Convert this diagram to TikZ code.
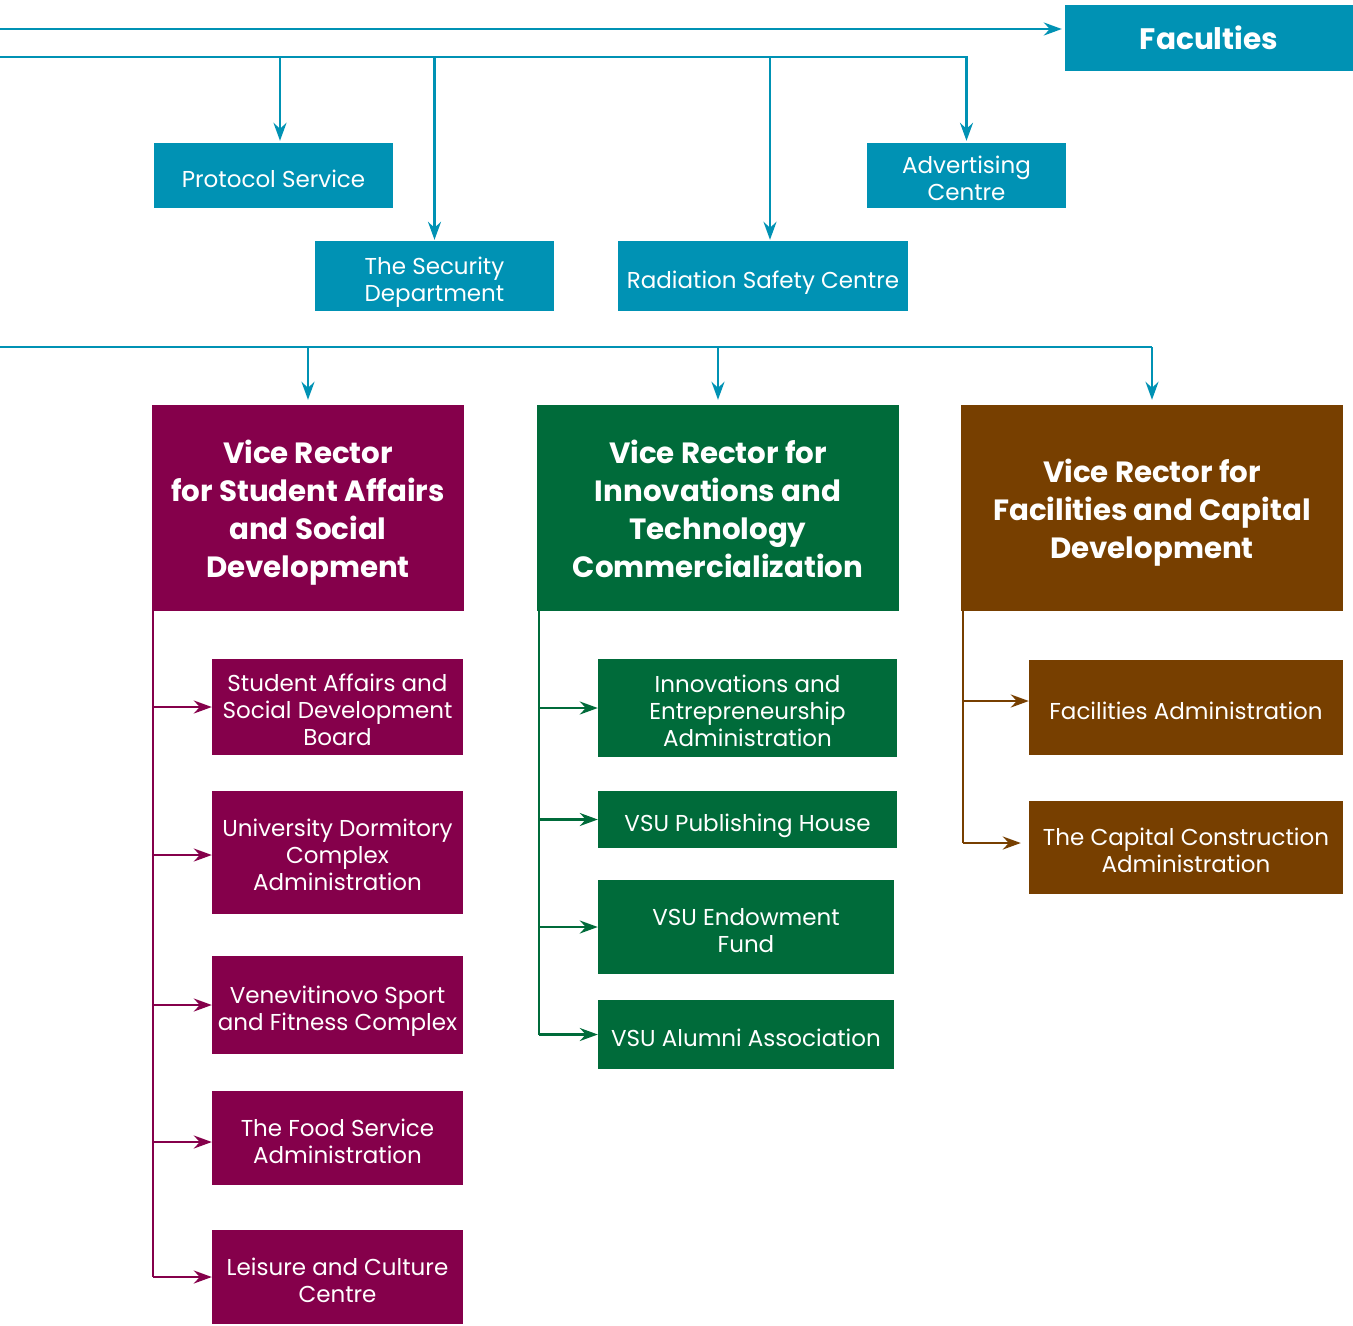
\documentclass[tikz,border=0pt]{standalone}
\usepackage{fontspec}
\setmainfont{Poppins}
\usetikzlibrary{arrows.meta}
\definecolor{cblue}{RGB}{0,146,180}
\definecolor{cmag}{RGB}{133,0,75}
\definecolor{cgreen}{RGB}{0,107,58}
\definecolor{cbrown}{RGB}{119,63,0}
\newcommand\mlstrut{\rule{0pt}{25pt}}
\newcommand\tlstrut{\rule{0pt}{27pt}}
\tikzset{
  box/.style={fill=#1, text=white, inner sep=0pt, align=center,
    font=\fontsize{23}{27}\selectfont,
    execute at begin node={\rule{0pt}{26pt}}, text depth=2pt},
  title/.style={fill=#1, text=white, inner sep=0pt, align=center,
    font=\fontsize{29.3}{38}\selectfont\bfseries, text depth=2pt},
  head/.style={fill=#1, text=white, inner sep=0pt, align=center,
    font=\fontsize{29.6}{38}\selectfont\bfseries},
  conn/.style={draw=#1, line width=2.6pt, -{Stealth[length=18pt,width=13pt,inset=6pt]}},
  plain/.style={draw=#1, line width=2.6pt},
}
\begin{document}
\begin{tikzpicture}[x=1pt,y=-1pt]
\useasboundingbox (0,0) rectangle (1353,1326);
% top row
\node[head=cblue, minimum width=288pt, minimum height=66pt] (fac) at (1209,38) {Faculties};
\node[box=cblue, minimum width=239pt, minimum height=65pt] (prot) at (273.5,175.5) {Protocol Service};
\node[box=cblue, minimum width=239pt, minimum height=70pt] (sec) at (434.5,276) {\mlstrut The Security\\Department};
\node[box=cblue, minimum width=290pt, minimum height=70pt] (rad) at (763,276) {Radiation Safety Centre};
\node[box=cblue, minimum width=199pt, minimum height=65pt] (adv) at (966.5,175.5) {\mlstrut Advertising\\Centre};
% vice rectors
\node[title=cmag, minimum width=312pt, minimum height=206pt] (vr1) at (308,508) {\tlstrut Vice Rector\\for Student Affairs\\and Social\\Development};
\node[title=cgreen, minimum width=362pt, minimum height=206pt] (vr2) at (718,508) {\tlstrut Vice Rector for\\Innovations and\\Technology\\Commercialization};
\node[title=cbrown, minimum width=382pt, minimum height=206pt] (vr3) at (1152,508) {\tlstrut Vice Rector for\\Facilities and Capital\\Development};
% magenta children
\node[box=cmag, minimum width=251pt, minimum height=96pt] (m1) at (337.5,707) {\mlstrut Student Affairs and\\Social Development\\Board};
\node[box=cmag, minimum width=251pt, minimum height=123pt] (m2) at (337.5,852) {\mlstrut University Dormitory\\Complex\\Administration};
\node[box=cmag, minimum width=251pt, minimum height=98pt] (m3) at (337.5,1005) {\mlstrut Venevitinovo Sport\\and Fitness Complex};
\node[box=cmag, minimum width=251pt, minimum height=94pt] (m4) at (337.5,1138) {\mlstrut The Food Service\\Administration};
\node[box=cmag, minimum width=251pt, minimum height=94pt] (m5) at (337.5,1277) {\mlstrut Leisure and Culture\\Centre};
% green children
\node[box=cgreen, minimum width=299pt, minimum height=98pt] (g1) at (747.5,708) {\mlstrut Innovations and\\Entrepreneurship\\Administration};
\node[box=cgreen, minimum width=299pt, minimum height=57pt] (g2) at (747.5,819.5) {VSU Publishing House};
\node[box=cgreen, minimum width=296pt, minimum height=94pt] (g3) at (746,927) {\mlstrut VSU Endowment\\Fund};
\node[box=cgreen, minimum width=296pt, minimum height=69pt] (g4) at (746,1034.5) {VSU Alumni Association};
% brown children
\node[box=cbrown, minimum width=314pt, minimum height=95pt] (b1) at (1186,707.5) {Facilities Administration};
\node[box=cbrown, minimum width=314pt, minimum height=93pt] (b2) at (1186,847.5) {\mlstrut The Capital Construction\\Administration};
% connector coordinates
\coordinate (L1) at (0,29);
\coordinate (L2) at (0,57);
\coordinate (L3) at (0,347);
\coordinate (pb) at (280,57);
\coordinate (rb) at (770,57);
\coordinate (s1) at (153,600);
\coordinate (s2) at (539,600);
\coordinate (s3) at (963,600);
% top connectors
\draw[conn=cblue, shorten >=3pt] (L1) -- (fac.west |- L1);
\draw[conn=cblue, shorten >=2pt] (L2) -- (adv.north |- L2) -- (adv.north);
\draw[conn=cblue, shorten >=2pt] (pb) -- (pb |- prot.north);
\draw[conn=cblue, shorten >=1pt] (sec.north |- L2) -- (sec.north);
\draw[conn=cblue, shorten >=1pt] (rb) -- (rb |- rad.north);
\draw[plain=cblue] (L3) -- (vr3.north |- L3);
\draw[conn=cblue, shorten >=5pt] (vr1.north |- L3) -- (vr1.north);
\draw[conn=cblue, shorten >=5pt] (vr2.north |- L3) -- (vr2.north);
\draw[conn=cblue, shorten >=5pt] (vr3.north |- L3) -- (vr3.north);
% magenta spine
\draw[plain=cmag] (s1) -- (s1 |- m5.west);
\draw[conn=cmag] (s1 |- m1.west) -- (m1.west);
\draw[conn=cmag] ([yshift=-3pt]s1 |- m2.west) -- ([yshift=-3pt]m2.west);
\draw[conn=cmag] (s1 |- m3.west) -- (m3.west);
\draw[conn=cmag] ([yshift=-4pt]s1 |- m4.west) -- ([yshift=-4pt]m4.west);
\draw[conn=cmag] (s1 |- m5.west) -- (m5.west);
% green spine
\draw[plain=cgreen] (s2) -- (s2 |- g4.west);
\foreach \n in {g1,g2,g3,g4}
  \draw[conn=cgreen] (s2 |- \n.west) -- (\n.west);
% brown spine
\draw[plain=cbrown] (s3) -- ([yshift=4.5pt]s3 |- b2.west);
\draw[conn=cbrown] ([yshift=6.5pt]s3 |- b1.west) -- ([yshift=6.5pt]b1.west);
\draw[conn=cbrown, shorten >=8pt] ([yshift=4.5pt]s3 |- b2.west) -- ([yshift=4.5pt]b2.west);
\end{tikzpicture}
\end{document}
